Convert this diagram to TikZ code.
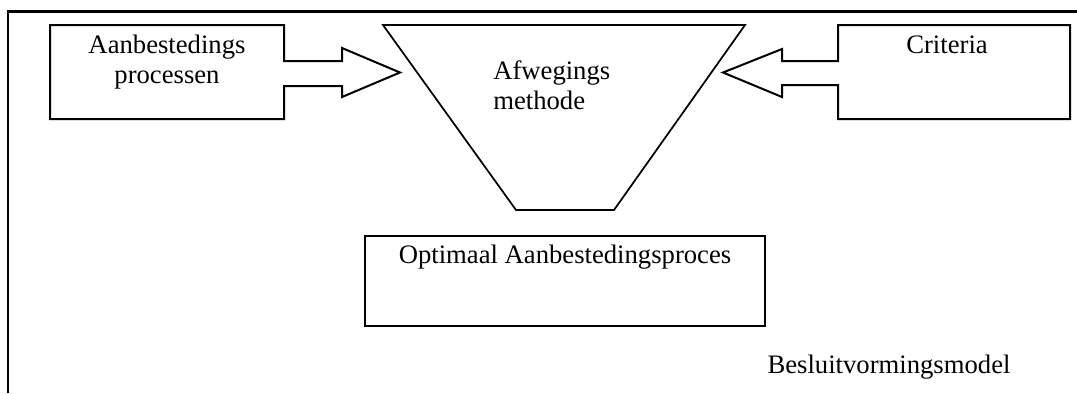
\documentclass[tikz,border=0pt]{standalone}
\usepackage{fontspec}
\setmainfont{Liberation Serif}
\begin{document}
\begin{tikzpicture}[x=0.75pt,y=-0.75pt,
  frame/.style={line width=1.8pt},
  outline/.style={line width=1.5pt, line join=miter},
  funnel/.style={line width=1.3pt, line join=miter},
  txt/.style={inner sep=0pt, font=\fontsize{20}{22.5}\selectfont}]
\useasboundingbox (0,0) rectangle (1077,393);

% surrounding frame (left and top edges only)
\coordinate (fr-bl) at (8,393);
\coordinate (fr-tl) at (8,11.5);
\coordinate (fr-tr) at (1077,11.5);
\draw[frame] (fr-bl) -- (fr-tl) -- (fr-tr);

% input box with block arrow: Aanbestedings processen
\draw[outline] (50,25) -- (284,25) -- (284,61) -- (342,61) -- (342,48)
  -- (400,72.5) -- (342,97) -- (342,86) -- (284,86) -- (284,119)
  -- (50,119) -- cycle;
% multi-line nodes: base anchor sits on the last line
\node[txt, align=center, anchor=base] (proc) at (167,83) {Aanbestedings\\processen};

% input box with block arrow: Criteria
\draw[outline] (1070,25) -- (838,25) -- (838,61) -- (782,61) -- (782,49)
  -- (723,72.5) -- (782,97) -- (782,85) -- (838,85) -- (838,119)
  -- (1070,119) -- cycle;
\node[txt, anchor=base] (crit) at (947,53) {Criteria};

% funnel: Afwegings methode
\draw[funnel] (383,25) -- (745,25) -- (614,210) -- (516,210) -- cycle;
\node[txt, align=left, anchor=base west] (meth) at (493,109) {Afwegings\\methode};

% result box
\draw[outline] (365,236) rectangle (765,326);
\node[txt, anchor=base] (res) at (565,263) {Optimaal Aanbestedingsproces};

% caption
\node[txt, anchor=base] (cap) at (889,373) {Besluitvormingsmodel};
\end{tikzpicture}
\end{document}
